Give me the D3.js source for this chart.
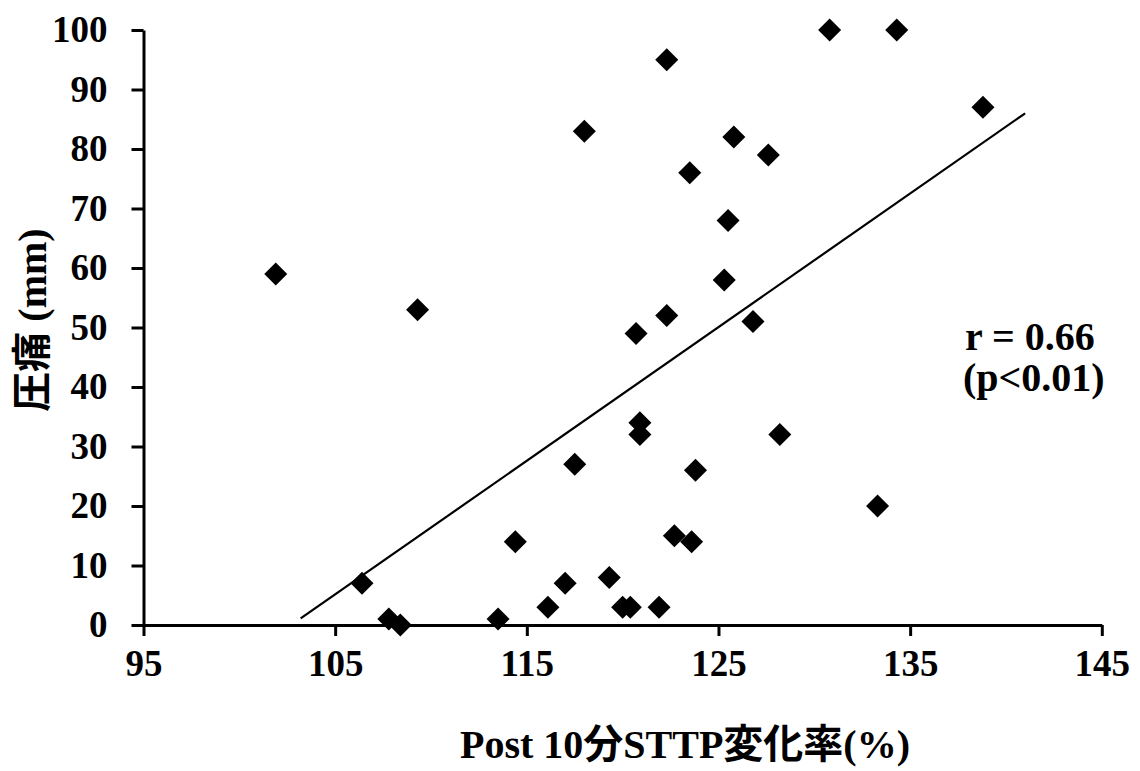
<!DOCTYPE html>
<html>
<head>
<meta charset="utf-8">
<script src="https://cdn.jsdelivr.net/npm/d3@7"></script>
<style>
  html, body { margin: 0; padding: 0; background: #fff; }
  svg { display: block; }
  text { font-family: "Liberation Serif", "Times New Roman", "Noto Sans CJK JP", serif; font-weight: bold; fill: #000; }
</style>
</head>
<body>
<script>
// ---- data ----
const xValues = [101.9, 106.4, 107.8, 108.4, 109.3, 113.5, 114.4, 116.1, 117.0, 117.5, 118.0, 119.3, 120.0, 120.4, 120.7, 120.9, 120.9, 121.9, 122.3, 122.3, 122.7, 123.5, 123.6, 123.8, 125.3, 125.5, 125.8, 126.8, 127.6, 128.2, 130.8, 133.3, 134.3, 138.8];
const yValues = [59, 7, 1, 0, 53, 1, 14, 3, 7, 27, 83, 8, 3, 3, 49, 34, 32, 3, 95, 52, 15, 76, 14, 26, 58, 68, 82, 51, 79, 32, 100, 20, 100, 87];
const trendX = [103.2, 141.0];
const trendY = [1.1, 86.0];
const xTicks = [95, 105, 115, 125, 135, 145];
const yTicks = [0, 10, 20, 30, 40, 50, 60, 70, 80, 90, 100];
const xTitle = "Post 10分STTP変化率(%)";
const yTitle = "圧痛 (mm)";
const annotation = ["r = 0.66", "(p<0.01)"];

// ---- layout ----
const W = 1140, H = 771;
const svg = d3.select("body").append("svg").attr("width", W).attr("height", H);

const x = d3.scaleLinear().domain([95, 145]).range([143.5, 1101.8]);
const y = d3.scaleLinear().domain([0, 100]).range([625, 30]);

const xAxis = svg.append("g").attr("transform", `translate(0,${y(0)})`)
  .call(d3.axisBottom(x).tickValues(xTicks).tickSize(11).tickSizeOuter(0).tickPadding(14).tickFormat(d3.format("d")));
const yAxis = svg.append("g").attr("transform", `translate(${x(95)},0)`)
  .call(d3.axisLeft(y).tickValues(yTicks).tickSize(12).tickSizeOuter(0).tickPadding(24).tickFormat(d3.format("d")));

[xAxis, yAxis].forEach(g => {
  g.select(".domain").attr("stroke", "#000").attr("stroke-width", 3);
  g.selectAll(".tick line").attr("stroke", "#000").attr("stroke-width", 3);
  g.selectAll(".tick text").attr("font-size", 37)
    .attr("font-family", '"Liberation Serif", "Times New Roman", serif')
    .attr("font-weight", "bold").attr("fill", "#000");
});
xAxis.selectAll(".tick text").attr("dy", "0.71em");

// trend line
const trend = trendX.map((v, i) => [v, trendY[i]]);
svg.append("path")
  .datum(trend)
  .attr("d", d3.line().x(d => x(d[0])).y(d => y(d[1])))
  .attr("stroke", "#000").attr("stroke-width", 2.2).attr("fill", "none");

// points
const pts = xValues.map((v, i) => ({ x: v, y: yValues[i] }));
const sym = d3.symbol().type(d3.symbolSquare).size(265);
svg.append("g").selectAll("path").data(pts).join("path")
  .attr("d", sym)
  .attr("transform", d => `translate(${x(d.x)},${y(d.y)}) rotate(45)`)
  .attr("fill", "#000");

// annotation
svg.append("text").attr("x", 965).attr("y", 350).attr("font-size", 40).text(annotation[0]);
svg.append("text").attr("x", 963).attr("y", 391).attr("font-size", 40).text(annotation[1]);

// axis titles
svg.append("text").attr("x", 685).attr("y", 758)
  .attr("text-anchor", "middle").attr("font-size", 40).text(xTitle);
svg.append("text")
  .attr("transform", `translate(46,320) rotate(-90)`)
  .attr("text-anchor", "middle").attr("font-size", 40).text(yTitle);
</script>
</body>
</html>
